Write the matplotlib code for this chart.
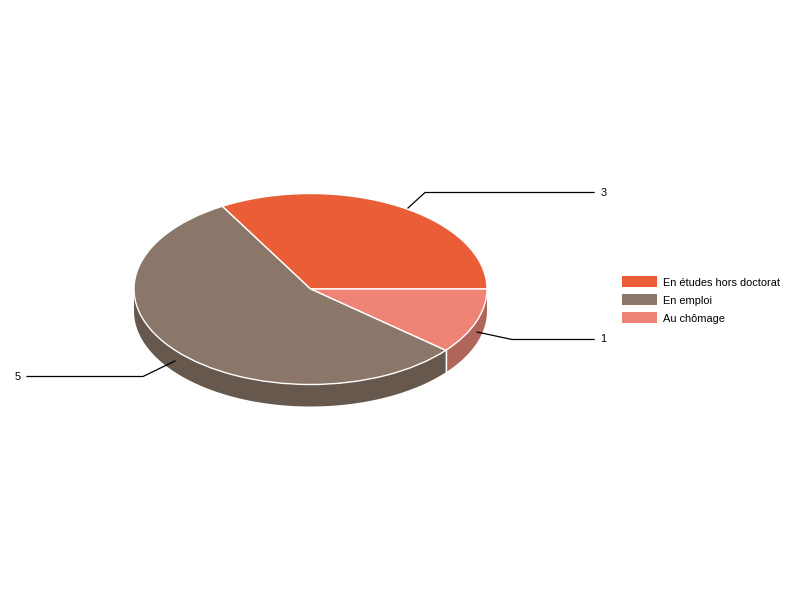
import numpy as np
import matplotlib
matplotlib.use("Agg")
import matplotlib.pyplot as plt
from matplotlib.patches import Rectangle

plt.rcParams['font.family'] = ['Liberation Sans', 'DejaVu Sans']

categories = ["En études hors doctorat", "Au chômage", "En emploi"]
values = [3, 1, 5]
legend_order = ["En études hors doctorat", "En emploi", "Au chômage"]
top_colors = {"En études hors doctorat": "#EA5E37",
              "Au chômage": "#EF8375",
              "En emploi": "#8A7769"}
side_colors = {"En études hors doctorat": "#A64226",
               "Au chômage": "#B0655A",
               "En emploi": "#67584D"}

W, H = 800, 600
CX, CY, RX, RY, DEPTH = 310.5, 289.0, 176.5, 95.5, 22.0
START = 120.0

fig = plt.figure(figsize=(W / 100, H / 100), dpi=100, facecolor="white")

# Pie axes: one data unit = the ellipse radius, so the circle is squashed.
ax = fig.add_axes([0, 0, 1, 1])
ax.pie(values, colors=[top_colors[c] for c in categories], startangle=START,
       counterclock=False, radius=1.0,
       wedgeprops=dict(edgecolor="white", linewidth=1.0, zorder=3))
ax.set_aspect("auto")
ax.set_xlim((0 - CX) / RX, (W - CX) / RX)
ax.set_ylim((CY - H) / RY, CY / RY)
ax.axis("off")

# Extruded side walls, from the same values.
d = DEPTH / RY
a0 = START
for cat, val in zip(categories, values):
    a1 = a0 - 360.0 * val / sum(values)
    t = np.radians(np.linspace(a0, a1, 200))
    t = t[np.sin(t) <= 0]
    if t.size:
        xs = np.cos(t)
        ys = np.sin(t)
        ax.fill(np.r_[xs, xs[::-1]], np.r_[ys, ys[::-1] - d],
                color=side_colors[cat], lw=0, zorder=1)
    a0 = a1

# White edge between side walls at the slice boundary in front.
bx = np.cos(np.radians(START - 360.0 * (values[0] + values[1]) / sum(values)))
by = np.sin(np.radians(START - 360.0 * (values[0] + values[1]) / sum(values)))
ax.plot([bx, bx], [by, by - d], color="white", lw=1.0, zorder=2)

# Overlay in pixel coordinates for leader lines, labels and legend.
ov = fig.add_axes([0, 0, 1, 1], facecolor="none")
ov.set_xlim(0, W)
ov.set_ylim(H, 0)
ov.axis("off")

leaders = {
    "3": ([408, 425, 594], [208, 192.5, 192.5], 601, "left"),
    "1": ([477, 512, 594], [332, 339.5, 339.5], 600.5, "left"),
    "5": ([175, 143, 27], [361, 376.5, 376.5], 21, "right"),
}
for lab, (lx, ly, tx, ha) in leaders.items():
    ov.plot(lx, ly, color="black", lw=0.9, solid_joinstyle="miter")
    ov.text(tx, ly[-1], lab, ha=ha, va="center", fontsize=7.9, color="black")

for i, cat in enumerate(legend_order):
    y = 276 + 18 * i
    ov.add_patch(Rectangle((622, y), 35, 11, facecolor=top_colors[cat],
                           edgecolor="none"))
    ov.text(663, y + 7.2, cat, ha="left", va="center", fontsize=7.9,
            color="black")

fig.savefig("out.png", dpi=100, facecolor="white")
